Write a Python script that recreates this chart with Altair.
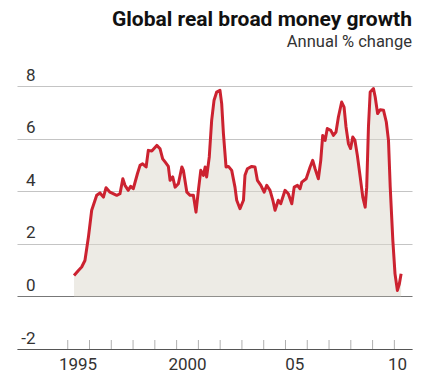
import altair as alt
import pandas as pd

# Global real broad money growth, annual % change
years = [
    1995.29, 1995.49, 1995.64, 1995.79, 1995.95, 1996.10, 1996.33, 1996.48, 1996.64, 1996.76,
    1996.94, 1997.25, 1997.40, 1997.53, 1997.63, 1997.78, 1997.89, 1998.01, 1998.20, 1998.32,
    1998.44, 1998.60, 1998.70, 1998.86, 1999.09, 1999.24, 1999.36, 1999.47, 1999.62, 1999.70,
    1999.82, 1999.93, 2000.08, 2000.24, 2000.31, 2000.47, 2000.62, 2000.77, 2000.89, 2001.00,
    2001.11, 2001.23, 2001.31, 2001.38, 2001.50, 2001.61, 2001.72, 2001.84, 2001.99, 2002.07,
    2002.15, 2002.27, 2002.38, 2002.53, 2002.68, 2002.76, 2002.91, 2003.07, 2003.14, 2003.25,
    2003.45, 2003.60, 2003.71, 2003.87, 2004.02, 2004.14, 2004.29, 2004.42, 2004.52, 2004.67,
    2004.78, 2004.98, 2005.13, 2005.29, 2005.40, 2005.55, 2005.67, 2005.75, 2005.95, 2006.13,
    2006.25, 2006.36, 2006.51, 2006.62, 2006.71, 2006.82, 2006.92, 2007.08, 2007.20, 2007.32,
    2007.43, 2007.58, 2007.69, 2007.78, 2007.89, 2007.99, 2008.09, 2008.19, 2008.30, 2008.43,
    2008.55, 2008.66, 2008.73, 2008.81, 2008.89, 2009.04, 2009.12, 2009.23, 2009.35, 2009.50,
    2009.63, 2009.73, 2009.81, 2009.93, 2010.03, 2010.14, 2010.23, 2010.31,
]
growth = [
    0.80, 0.99, 1.12, 1.37, 2.26, 3.28, 3.85, 3.94, 3.78, 4.14,
    3.97, 3.85, 3.91, 4.48, 4.23, 4.04, 4.19, 4.10, 4.67, 4.99,
    5.05, 4.93, 5.56, 5.54, 5.75, 5.62, 5.24, 5.12, 4.95, 4.42,
    4.55, 4.16, 4.29, 4.93, 4.80, 3.97, 3.85, 3.85, 3.21, 4.04,
    4.80, 4.61, 4.93, 4.55, 5.31, 6.70, 7.47, 7.78, 7.85, 7.34,
    6.20, 4.93, 4.95, 4.80, 4.16, 3.66, 3.34, 3.66, 4.61, 4.86,
    4.95, 4.93, 4.42, 4.23, 3.97, 4.23, 4.04, 3.66, 3.28, 3.66,
    3.53, 4.04, 3.91, 3.53, 4.16, 4.23, 4.10, 4.35, 4.48, 4.93,
    5.18, 4.86, 4.48, 5.18, 6.13, 5.94, 6.39, 6.32, 6.13, 6.26,
    6.83, 7.40, 7.21, 6.45, 5.82, 5.63, 6.07, 5.94, 5.37, 4.55,
    3.78, 3.40, 4.16, 6.45, 7.78, 7.91, 7.59, 6.96, 7.11, 7.09,
    6.64, 5.94, 4.16, 2.13, 0.86, 0.23, 0.48, 0.86,
]

# axis content
tick_years = list(range(1995, 2011))
x_label_pos = [1995.45, 2000.48, 2005.40, 2010.12]
x_label_text = ["1995", "2000", "05", "10"]
y_ticks = [-2, 0, 2, 4, 6, 8]

FONT = "Roboto, Liberation Sans, sans-serif"

df = pd.DataFrame({"year": years, "growth": growth})
ticks_df = pd.DataFrame({"year": tick_years})

label_expr = " : ".join(
    f"datum.value < {p + 0.5} ? '{t}'" for p, t in zip(x_label_pos[:-1], x_label_text[:-1])
) + f" : '{x_label_text[-1]}'"

x_scale = alt.Scale(domain=[1992.67, 2010.81], nice=False, zero=False)
y_scale = alt.Scale(domain=[-2, 9], nice=False, zero=False)

x_axis = alt.Axis(
    values=x_label_pos, labelExpr=label_expr, ticks=False, grid=False,
    domainColor="#555555", domainWidth=1.2, labelFont=FONT, labelFontSize=17,
    labelColor="#333333", labelPadding=7, labelFlush=False, title=None,
)
y_axis = alt.Axis(
    values=y_ticks, grid=True,
    labelExpr="datum.value < 0 ? '-' + abs(datum.value) : '' + datum.value",
    gridColor={"condition": {"test": "datum.value === 0", "value": "#777777"}, "value": "#c4c4c4"},
    gridWidth=1.2, domain=False, ticks=False, tickSize=0,
    labelAlign="right", labelBaseline="alphabetic", labelPadding=-18, labelOffset=-6,
    labelFont=FONT, labelFontSize=17, labelColor="#333333", title=None,
)

area = alt.Chart(df).mark_area(color="#dcd8cb", opacity=0.5).encode(
    x=alt.X("year:Q", scale=x_scale, axis=x_axis),
    y=alt.Y("growth:Q", scale=y_scale, axis=y_axis),
    y2=alt.datum(0),
)

line = alt.Chart(df).mark_line(color="#cc2230", strokeWidth=3, strokeJoin="round").encode(
    x=alt.X("year:Q", scale=x_scale),
    y=alt.Y("growth:Q", scale=y_scale),
)

ticks = alt.Chart(ticks_df).mark_rule(color="#b0b0b0", strokeWidth=1).encode(
    x=alt.X("year:Q", scale=x_scale),
    y=alt.value(280),
    y2=alt.value(289),
)

chart = alt.layer(area, ticks, line).properties(
    width=395,
    height=289,
    autosize="none",
    padding={"left": 9, "top": 52, "right": 27, "bottom": 30},
    title=alt.TitleParams(
        text="Global real broad money growth",
        subtitle="Annual % change",
        anchor="end",
        font=FONT,
        fontSize=21,
        fontWeight="bold",
        color="#111111",
        subtitleFont=FONT,
        subtitleFontSize=16.5,
        subtitleColor="#333333",
        subtitlePadding=4,
        offset=10,
    ),
).configure_view(stroke=None)

chart.save("out.html", embed_options={"renderer": "svg", "actions": False})
